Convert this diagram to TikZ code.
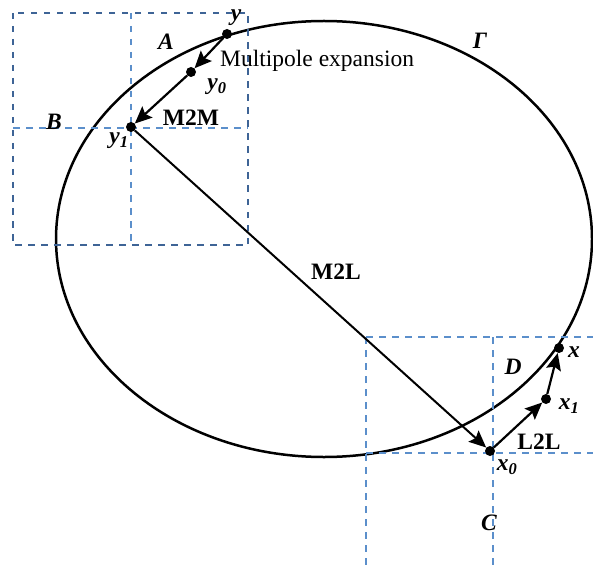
\documentclass[tikz,border=0pt]{standalone}
\usepackage{fontspec}
\setmainfont{Liberation Serif}
\usetikzlibrary{arrows.meta}
\definecolor{gridA}{HTML}{3E6496}
\definecolor{gridB}{HTML}{5B8FCB}
\tikzset{
  dot/.style={circle,fill=black,inner sep=0pt,minimum size=10pt},
  gridout/.style={draw=gridA,line width=2.2pt,dash pattern=on 6.5pt off 6.5pt},
  gridin/.style={draw=gridB,line width=2.2pt,dash pattern=on 6.5pt off 6.5pt},
  arr/.style={line width=2.2pt,-{Stealth[length=17pt,width=15pt,inset=3pt]}},
  lbl/.style={inner sep=0pt,font=\fontsize{23.5}{28}\selectfont},
  blbl/.style={lbl,font=\fontsize{23.5}{28}\selectfont\bfseries\itshape},
  ulbl/.style={lbl,font=\fontsize{23.5}{28}\selectfont\bfseries},
}
\begin{document}
\begin{tikzpicture}[x=1pt,y=-1pt]
\useasboundingbox (0,0) rectangle (593,569);
% ellipse Gamma
\draw[line width=2.5pt] (324,239) ellipse [x radius=268pt, y radius=218pt];
% top-left grid
\draw[gridin] (131,13) -- (131,245);
\draw[gridin] (13,128) -- (248,128);
\draw[gridout] (13,13) rectangle (248,245);
% bottom-right grid
\draw[gridin] (366,337) -- (593,337);
\draw[gridin] (366,453) -- (593,453);
\draw[gridin] (366,337) -- (366,569);
\draw[gridin] (493,337) -- (493,569);
% points
\node[dot] (y)  at (227,34) {};
\node[dot] (y0) at (191,72) {};
\node[dot] (y1) at (131,127) {};
\node[dot] (x0) at (490,451) {};
\node[dot] (x1) at (546,399) {};
\node[dot] (x)  at (559,348) {};
% arrows
\draw[arr] (y) -- (y0);
\draw[arr] (y0) -- (y1);
\draw[arr,line width=2pt] (y1) -- (x0);
\draw[arr] (x0) -- (x1);
\draw[arr] (x1) -- (x);
% labels
\node[blbl] (ly)  at (236,18) {y};
\node[blbl] (lA)  at (166,42) {A};
\node[lbl,anchor=west] (lmp) at (220,61) {Multipole expansion};
\node[blbl] (ly0) at (217,87) {y\textsubscript{0}};
\node[ulbl] (lm2m) at (191,118) {M2M};
\node[blbl] (lB)  at (54,122) {B};
\node[blbl] (ly1) at (119,141) {y\textsubscript{1}};
\node[blbl] (lG)  at (480,41) {Γ};
\node[ulbl] (lm2l) at (336,272) {M2L};
\node[blbl] (lD)  at (513,367) {D};
\node[blbl] (lx)  at (574,352) {x};
\node[blbl] (lx1) at (569,406) {x\textsubscript{1}};
\node[ulbl] (ll2l) at (539,442) {L2L};
\node[blbl] (lx0) at (507,467) {x\textsubscript{0}};
\node[blbl] (lC)  at (489,523) {C};
\end{tikzpicture}
\end{document}
